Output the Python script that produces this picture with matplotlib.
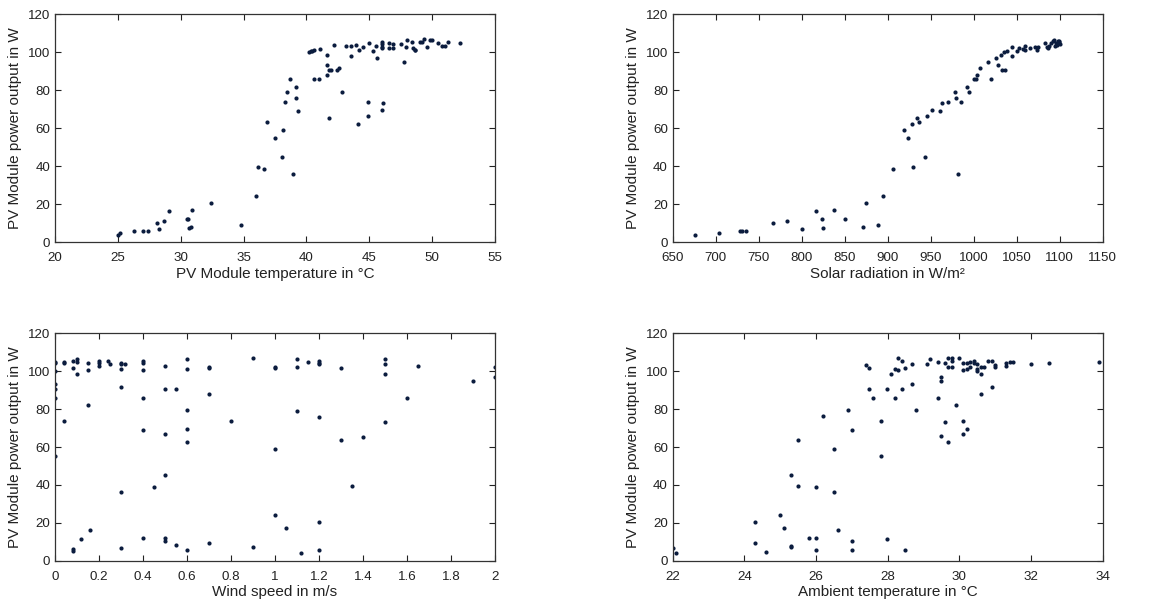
import matplotlib
matplotlib.use("Agg")
import matplotlib.pyplot as plt

plt.rcParams['font.family'] = ['Liberation Sans', 'DejaVu Sans']

# --- Data: module temperature vs power ---
mod_temp = [25.0, 25.2, 26.3, 27.0, 27.4, 28.1, 28.3, 28.7, 29.07, 30.53, 30.6, 30.66, 30.8, 30.9,
            32.38, 34.77, 36.0, 36.12, 36.63, 36.89, 37.53, 38.03, 38.14, 38.3, 38.48, 38.7, 38.93,
            39.15, 39.15, 39.33, 40.23, 40.37, 40.47, 40.58, 40.6, 41.0, 41.08, 41.61, 41.66, 41.66,
            41.8, 41.82, 41.98, 42.22, 42.43, 42.6, 42.83, 43.18, 43.52, 43.52, 43.95, 44.1, 44.18,
            44.5, 44.87, 44.87, 45.0, 45.32, 45.54, 45.64, 45.99, 45.99, 45.99, 45.99, 45.99, 46.12,
            46.6, 46.6, 46.92, 46.92, 47.55, 47.74, 47.92, 47.98, 48.37, 48.5, 48.6, 48.67, 49.04,
            49.17, 49.36, 49.62, 49.83, 50.0, 50.47, 50.81, 51.0, 51.27, 52.19]
power_mt = [3.9, 4.6, 5.6, 5.6, 5.6, 10.2, 6.7, 11.2, 16.1, 12.1, 12.1, 7.2, 8.1, 17.0,
            20.5, 9.1, 24.0, 39.5, 38.4, 63.3, 54.9, 44.7, 58.8, 73.7, 79.1, 85.6, 36.0,
            81.6, 76.0, 68.8, 100.2, 100.4, 100.7, 101.1, 85.6, 85.6, 101.6, 93.3, 98.2, 87.9,
            90.4, 65.4, 90.4, 103.5, 90.7, 91.4, 79.1, 103.2, 103.3, 98.1, 103.7, 62.3, 101.2,
            102.8, 73.7, 66.5, 104.7, 100.4, 103.3, 96.7, 105.1, 104.0, 102.6, 101.9, 69.3, 73.0,
            104.7, 102.3, 104.4, 102.3, 104.2, 94.9, 102.5, 106.3, 105.1, 102.1, 101.2, 100.9, 105.4,
            105.4, 106.7, 102.6, 106.5, 106.5, 104.9, 103.3, 103.3, 105.3, 104.9]

# --- Data: solar radiation vs power ---
solar = [676.4, 703.5, 727.9, 730.2, 735.3, 766.3, 783.3, 800.0, 816.3, 824.0, 824.8, 838.0,
         850.8, 874.8, 870.9, 888.8, 895.0, 906.6, 919.4, 923.3, 928.7, 929.8, 934.1, 936.8,
         943.4, 946.1, 951.2, 960.9, 962.8, 970.2, 977.9, 979.5, 981.4, 985.7, 991.9, 995.0,
         1000.8, 1002.7, 1003.9, 1007.4, 1016.3, 1019.8, 1026.4, 1027.9, 1031.8, 1033.0, 1036.0,
         1035.7, 1038.4, 1044.6, 1045.0, 1050.0, 1053.1, 1057.0, 1059.3, 1059.7, 1065.2, 1071.3,
         1073.3, 1075.2, 1083.3, 1084.9, 1086.5, 1088.0, 1090.0, 1092.0, 1093.4, 1094.5, 1095.7,
         1097.0, 1098.0, 1098.8, 1099.6, 1100.0]
power_sr = [3.9, 4.6, 5.6, 5.6, 5.6, 10.2, 11.2, 6.7, 16.1, 12.1, 7.2, 17.0,
            12.1, 20.5, 8.1, 9.1, 24.0, 38.4, 58.8, 54.9, 62.3, 39.5, 65.3, 63.3,
            44.7, 66.5, 69.3, 68.8, 73.0, 73.7, 79.1, 76.0, 36.0, 73.7, 81.6, 79.1,
            85.6, 85.6, 87.9, 91.4, 94.9, 85.6, 96.7, 93.3, 98.2, 90.4, 90.4,
            100.2, 100.4, 98.1, 102.6, 100.4, 102.1, 101.6, 101.2, 103.3, 102.3, 102.8,
            101.2, 102.8, 104.7, 102.8, 102.3, 103.3, 104.7, 105.6, 106.3, 103.0, 104.7,
            103.5, 106.0, 105.8, 105.1, 104.2]

# --- Data: wind speed vs power ---
wind = [0, 0, 0, 0, 0, 0, 0,
        0.04, 0.04, 0.04,
        0.08, 0.08, 0.08, 0.08,
        0.1, 0.1, 0.1,
        0.12,
        0.15, 0.15, 0.15,
        0.16,
        0.2, 0.2, 0.2,
        0.24, 0.25,
        0.3, 0.3, 0.3, 0.3, 0.3, 0.3,
        0.32,
        0.4, 0.4, 0.4, 0.4, 0.4, 0.4,
        0.45,
        0.5, 0.5, 0.5, 0.5, 0.5, 0.5,
        0.55, 0.55,
        0.6, 0.6, 0.6, 0.6, 0.6, 0.6,
        0.7, 0.7, 0.7, 0.7,
        0.8,
        0.9, 0.9,
        1.0, 1.0, 1.0, 1.0,
        1.05,
        1.1, 1.1, 1.1,
        1.12, 1.15,
        1.2, 1.2, 1.2, 1.2, 1.2, 1.2,
        1.3, 1.3,
        1.35, 1.4,
        1.5, 1.5, 1.5, 1.5,
        1.6, 1.65, 1.9,
        2.0, 2.0]
power_ws = [105.0, 104.2, 100.3, 93.4, 90.8, 85.9, 55.3,
            105.0, 104.2, 73.7,
            105.4, 101.9, 6.0, 5.1,
            106.5, 105.0, 98.4,
            11.3,
            104.2, 100.5, 82.0,
            16.2,
            105.4, 104.2, 102.8,
            105.4, 103.6,
            104.5, 104.0, 101.4, 91.5, 36.1, 6.7,
            103.6,
            105.4, 104.2, 100.5, 85.9, 69.0, 12.0,
            38.7,
            102.8, 90.8, 66.7, 45.0, 12.0, 10.4,
            90.6, 8.3,
            106.6, 101.0, 79.4, 69.5, 62.5, 5.6,
            102.4, 101.9, 88.2, 9.3,
            73.7,
            106.8, 7.2,
            102.4, 101.5, 58.8, 24.1,
            17.1,
            106.3, 102.4, 79.2,
            4.0, 105.0,
            105.4, 104.2, 103.6, 76.0, 20.6, 5.8,
            101.7, 63.5,
            39.6, 65.5,
            106.5, 103.6, 98.5, 73.0,
            85.9, 102.9, 94.8,
            102.4, 97.0]

# --- Data: ambient temperature vs power ---
amb_temp = [22.0, 22.1, 24.29, 24.29, 24.6, 25.0, 25.1, 25.29, 25.29, 25.29, 25.49, 25.49, 25.8,
            25.99, 25.99, 25.99, 26.2, 26.49, 26.49, 26.6, 26.89, 27.0, 27.0, 27.0, 27.39, 27.49,
            27.49, 27.59, 27.8, 27.8, 27.99, 27.99, 28.09, 28.19, 28.19, 28.29, 28.29, 28.39, 28.39,
            28.49, 28.49, 28.69, 28.69, 28.79, 29.09, 29.19, 29.4, 29.4, 29.5, 29.5, 29.5, 29.6,
            29.6, 29.69, 29.69, 29.69, 29.8, 29.8, 29.8, 29.9, 29.99, 30.1, 30.1, 30.1, 30.1, 30.2,
            30.2, 30.2, 30.3, 30.3, 30.4, 30.4, 30.5, 30.5, 30.5, 30.6, 30.6, 30.6, 30.7, 30.8,
            30.9, 30.9, 31.0, 31.0, 31.3, 31.3, 31.4, 31.5, 32.0, 32.5, 33.9]
power_at = [6.9, 4.0, 20.4, 9.3, 4.6, 24.1, 17.1, 45.0, 7.9, 7.2, 63.7, 39.6, 12.0,
            38.7, 12.0, 5.8, 76.2, 58.8, 36.1, 16.4, 79.4, 68.8, 10.2, 5.8, 103.3, 101.7,
            90.6, 85.9, 73.9, 55.1, 90.6, 11.3, 98.4, 101.4, 85.9, 106.8, 100.5, 105.4, 90.6,
            101.9, 5.8, 103.6, 93.4, 79.4, 103.6, 106.5, 105.0, 85.9, 97.1, 94.8, 65.6, 104.2,
            73.2, 106.8, 102.4, 62.5, 106.8, 105.4, 102.4, 82.0, 106.8, 104.2, 100.5, 73.9, 66.7, 104.2,
            101.0, 69.5, 102.4, 105.0, 105.4, 104.2, 103.6, 101.0, 100.1, 102.4, 98.5, 88.2, 102.4, 105.4,
            105.4, 91.5, 103.3, 102.4, 104.2, 102.9, 105.0, 105.0, 103.6, 104.5, 104.9]

y_label = "PV Module power output in W"
y_ticks = [0, 20, 40, 60, 80, 100, 120]

panels = [
    (mod_temp, power_mt, "PV Module temperature in °C", (20, 55), [20, 25, 30, 35, 40, 45, 50, 55], [0.0469, 0.6026, 0.3751, 0.3744]),
    (solar, power_sr, "Solar radiation in W/m²", (650, 1150), [650, 700, 750, 800, 850, 900, 950, 1000, 1050, 1100, 1150], [0.5735, 0.6026, 0.3666, 0.3744]),
    (wind, power_ws, "Wind speed in m/s", (0, 2), [0, 0.2, 0.4, 0.6, 0.8, 1, 1.2, 1.4, 1.6, 1.8, 2], [0.0469, 0.0793, 0.3751, 0.3734]),
    (amb_temp, power_at, "Ambient temperature in °C", (22, 34), [22, 24, 26, 28, 30, 32, 34], [0.5735, 0.0793, 0.3666, 0.3734]),
]

fig = plt.figure(figsize=(11.73, 6.09), dpi=100)
for xs, ys, xl, xlim, xt, pos in panels:
    ax = fig.add_axes(pos)
    ax.plot(xs, ys, linestyle='none', marker='o', ms=3.0, color='#0b1c3e', mec='none')
    ax.set_xlim(*xlim)
    ax.set_ylim(0, 120)
    ax.set_xticks(xt)
    ax.set_xticklabels([("%g" % t) for t in xt])
    ax.set_yticks(y_ticks)
    ax.tick_params(direction='in', length=4, width=0.8, labelsize=9.6, colors='#222222',
                   top=True, right=True)
    ax.tick_params(axis='x', pad=7.5)
    ax.tick_params(axis='y', pad=3.5)
    for s in ax.spines.values():
        s.set_color('#333333')
        s.set_linewidth(0.9)
    ax.set_xlabel(xl, fontsize=11, color='#222222', labelpad=1.5)
    ax.set_ylabel(y_label, fontsize=11, color='#222222', labelpad=4)

fig.savefig("out.png", dpi=100)
